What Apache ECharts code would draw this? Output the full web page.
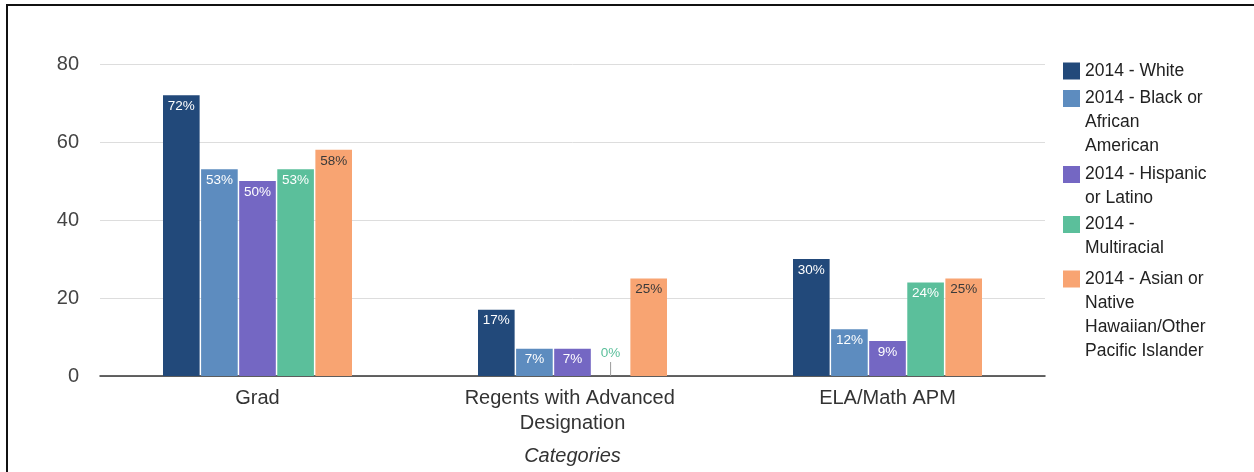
<!DOCTYPE html>
<html>
<head>
<meta charset="utf-8">
<script src="https://cdn.jsdelivr.net/npm/echarts@6/dist/echarts.min.js"></script>
<style>
  html, body { margin: 0; padding: 0; background: #fff; }
  #chart { width: 1254px; height: 472px; }
</style>
</head>
<body>
<div id="chart"></div>
<script>
// Outcome rates (%) by subgroup, 2014
const categories = ['Grad', 'Regents with Advanced Designation', 'ELA/Math APM'];
const seriesNames = [
  '2014 - White',
  '2014 - Black or African American',
  '2014 - Hispanic or Latino',
  '2014 - Multiracial',
  '2014 - Asian or Native Hawaiian/Other Pacific Islander'
];
const white = [72, 17, 30];
const black = [53, 7, 12];
const hispanic = [50, 7, 9];
const multiracial = [53, 0, 24];
const asian = [58, 25, 25];
const yTicks = [0, 20, 40, 60, 80];

// wrapped legend lines
const legendLines = [
  ['2014 - White'],
  ['2014 - Black or', 'African', 'American'],
  ['2014 - Hispanic', 'or Latino'],
  ['2014 -', 'Multiracial'],
  ['2014 - Asian or', 'Native', 'Hawaiian/Other', 'Pacific Islander']
];

const colors = ['#22497a', '#5d8cbf', '#7467c3', '#5bbf9b', '#f8a472'];
const values = [white, black, hispanic, multiracial, asian];
const FONT = '"Liberation Sans", Arial, sans-serif';
const LH = 24;          // legend line height
const SW = 17;          // legend swatch size
const legendTops = [59, 86.5, 162.5, 212.5, 267];

const chart = echarts.init(document.getElementById('chart'), null, { renderer: 'canvas' });

function makeSeries(i) {
  const isAsian = i === 4;
  return {
    name: seriesNames[i],
    type: 'bar',
    barGap: '4%',
    barCategoryGap: '40%',
    itemStyle: { color: colors[i] },
    label: {
      show: true,
      position: 'insideTop',
      distance: 4,
      fontFamily: FONT,
      fontSize: 13.5,
      color: isAsian ? '#3a3a3a' : '#ffffff',
      formatter: p => p.value + '%'
    },
    data: values[i].map(v => {
      if (v !== 0) return v;
      // zero value: label sits above a thin stem
      return {
        value: v,
        label: {
          position: 'top',
          distance: 0,
          formatter: '{v|0%}\n{s|}',
          rich: {
            v: { color: colors[i], fontSize: 13.5, fontFamily: FONT, lineHeight: 18, align: 'center' },
            s: { width: 1, height: 14, lineHeight: 14, backgroundColor: '#9a9a9a', align: 'center' }
          }
        }
      };
    })
  };
}

// One legend block per series; the swatch sits beside the first text line.
function makeLegend(i) {
  const n = legendLines[i].length;
  const h = n * LH;
  const off = (LH - SW) / 2;
  return {
    orient: 'vertical',
    left: 1063,
    top: legendTops[i],
    itemWidth: SW,
    itemHeight: h,
    itemGap: 0,
    padding: 0,
    icon: 'path://M0,' + off + 'h' + SW + 'v' + SW + 'h-' + SW + 'z M0,0h0 M0,' + h + 'h0',
    data: [seriesNames[i]],
    formatter: () => legendLines[i].join('\n'),
    textStyle: { fontFamily: FONT, fontSize: 17.5, color: '#222222', lineHeight: LH }
  };
}

const option = {
  backgroundColor: '#ffffff',
  animation: false,
  textStyle: { fontFamily: FONT },
  graphic: [{
    type: 'rect',
    silent: true,
    shape: { x: 7, y: 5, width: 1300, height: 520 },
    style: { fill: 'none', stroke: '#111111', lineWidth: 2 }
  }],
  grid: {
    left: 100, right: 209, top: 64, bottom: 96,
    containLabel: false,
    outerBoundsMode: 'none'
  },
  legend: seriesNames.map((_, i) => makeLegend(i)),
  xAxis: {
    type: 'category',
    data: categories,
    name: 'Categories',
    nameLocation: 'middle',
    nameGap: 70,
    nameTextStyle: { fontFamily: FONT, fontSize: 20, fontStyle: 'italic', color: '#333333' },
    axisLine: { show: true, lineStyle: { color: '#333333', width: 1.5 } },
    axisTick: { show: false },
    axisLabel: {
      fontFamily: FONT, fontSize: 20, color: '#333333', margin: 10,
      lineHeight: 25, interval: 0, width: 240, overflow: 'break'
    },
    splitLine: { show: false }
  },
  yAxis: {
    type: 'value',
    min: yTicks[0],
    max: yTicks[yTicks.length - 1],
    interval: 20,
    axisLine: { show: false },
    axisTick: { show: false },
    axisLabel: { fontFamily: FONT, fontSize: 20, color: '#444444', margin: 21 },
    splitLine: { show: true, lineStyle: { color: '#dddddd', width: 1 } }
  },
  series: seriesNames.map((_, i) => makeSeries(i))
};

chart.setOption(option);
</script>
</body>
</html>
